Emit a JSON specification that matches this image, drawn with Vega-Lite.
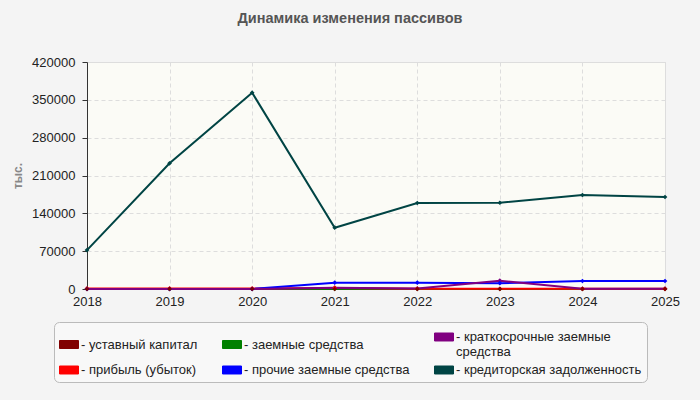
{
  "$schema": "https://vega.github.io/schema/vega-lite/v6.json",
  "autosize": {"type": "none"},
  "width": 578,
  "height": 227,
  "padding": {"left": 87, "top": 62, "right": 35, "bottom": 111},
  "background": "#f4f4f4",
  "title": {
    "text": "Динамика изменения пассивов",
    "anchor": "middle",
    "dx": -26,
    "offset": 30,
    "fontSize": 14.5,
    "fontWeight": "bold",
    "color": "#555555",
    "font": "Liberation Sans"
  },
  "data": {
    "values": [
      {"year": 2018, "series": "уставный капитал", "value": 10},
      {"year": 2019, "series": "уставный капитал", "value": 10},
      {"year": 2020, "series": "уставный капитал", "value": 10},
      {"year": 2021, "series": "уставный капитал", "value": 10},
      {"year": 2022, "series": "уставный капитал", "value": 10},
      {"year": 2023, "series": "уставный капитал", "value": 10},
      {"year": 2024, "series": "уставный капитал", "value": 10},
      {"year": 2025, "series": "уставный капитал", "value": 10},
      {"year": 2018, "series": "заемные средства", "value": 0},
      {"year": 2019, "series": "заемные средства", "value": 0},
      {"year": 2020, "series": "заемные средства", "value": 0},
      {"year": 2021, "series": "заемные средства", "value": 0},
      {"year": 2022, "series": "заемные средства", "value": 0},
      {"year": 2023, "series": "заемные средства", "value": 0},
      {"year": 2024, "series": "заемные средства", "value": 0},
      {"year": 2025, "series": "заемные средства", "value": 0},
      {"year": 2018, "series": "прибыль (убыток)", "value": 1000},
      {"year": 2019, "series": "прибыль (убыток)", "value": 1000},
      {"year": 2020, "series": "прибыль (убыток)", "value": 1000},
      {"year": 2021, "series": "прибыль (убыток)", "value": 2000},
      {"year": 2022, "series": "прибыль (убыток)", "value": 500},
      {"year": 2023, "series": "прибыль (убыток)", "value": 500},
      {"year": 2024, "series": "прибыль (убыток)", "value": 300},
      {"year": 2025, "series": "прибыль (убыток)", "value": 300},
      {"year": 2018, "series": "прочие заемные средства", "value": 0},
      {"year": 2019, "series": "прочие заемные средства", "value": 0},
      {"year": 2020, "series": "прочие заемные средства", "value": 0},
      {"year": 2021, "series": "прочие заемные средства", "value": 11700},
      {"year": 2022, "series": "прочие заемные средства", "value": 11700},
      {"year": 2023, "series": "прочие заемные средства", "value": 10800},
      {"year": 2024, "series": "прочие заемные средства", "value": 14800},
      {"year": 2025, "series": "прочие заемные средства", "value": 14800},
      {"year": 2018, "series": "краткосрочные заемные средства", "value": 0},
      {"year": 2019, "series": "краткосрочные заемные средства", "value": 0},
      {"year": 2020, "series": "краткосрочные заемные средства", "value": 0},
      {"year": 2021, "series": "краткосрочные заемные средства", "value": 2400},
      {"year": 2022, "series": "краткосрочные заемные средства", "value": 1000},
      {"year": 2023, "series": "краткосрочные заемные средства", "value": 15400},
      {"year": 2024, "series": "краткосрочные заемные средства", "value": 600},
      {"year": 2025, "series": "краткосрочные заемные средства", "value": 600},
      {"year": 2018, "series": "кредиторская задолженность", "value": 72000},
      {"year": 2019, "series": "кредиторская задолженность", "value": 232600},
      {"year": 2020, "series": "кредиторская задолженность", "value": 363200},
      {"year": 2021, "series": "кредиторская задолженность", "value": 113400},
      {"year": 2022, "series": "кредиторская задолженность", "value": 159100},
      {"year": 2023, "series": "кредиторская задолженность", "value": 159600},
      {"year": 2024, "series": "кредиторская задолженность", "value": 173900},
      {"year": 2025, "series": "кредиторская задолженность", "value": 170200}
    ]
  },
  "encoding": {
    "x": {
      "field": "year",
      "type": "quantitative",
      "scale": {"domain": [2018, 2025], "nice": false, "zero": false},
      "axis": {
        "title": null,
        "values": [2018, 2019, 2020, 2021, 2022, 2023, 2024, 2025],
        "format": "d",
        "labelFlush": false,
        "tickSize": 0,
        "labelPadding": 6
      }
    },
    "y": {
      "field": "value",
      "type": "quantitative",
      "scale": {"domain": [0, 420000], "nice": false},
      "axis": {
        "title": "тыс.",
        "values": [0, 70000, 140000, 210000, 280000, 350000, 420000],
        "format": "d",
        "tickSize": 5,
        "labelPadding": 7,
        "titlePadding": 7,
        "titleColor": "#888888",
        "titleFontWeight": "bold",
        "titleFontSize": 12
      }
    },
    "color": {
      "field": "series",
      "type": "nominal",
      "scale": {
        "domain": ["уставный капитал", "заемные средства", "краткосрочные заемные средства", "прибыль (убыток)", "прочие заемные средства", "кредиторская задолженность"],
        "range": ["#800000", "#008000", "#800080", "#ff0000", "#0000ff", "#004444"]
      },
      "legend": {
        "title": null,
        "orient": "none",
        "legendX": -33,
        "legendY": 260,
        "columns": 3,
        "direction": "horizontal",
        "fillColor": "#f8f8f8",
        "strokeColor": "#bbbbbb",
        "cornerRadius": 5,
        "padding": 5,
        "columnPadding": 22,
        "rowPadding": 1,
        "symbolType": "M-1,-0.42H1V0.42H-1Z",
        "symbolSize": 361,
        "symbolStrokeWidth": 1,
        "labelFontSize": 13,
        "labelColor": "#222222",
        "labelOffset": 2,
        "labelLimit": 300,
        "labelExpr": "datum.label == 'краткосрочные заемные средства' ? ['- краткосрочные заемные', '  средства'] : '- ' + datum.label",
        "encode": {
          "labels": {
            "update": {"lineHeight": {"value": 15}}
          },
          "symbols": {
            "update": {
              "fill": {"scale": "color", "field": "value"},
              "stroke": {"value": "#999999"},
              "strokeWidth": {"value": 1},
              "opacity": {"value": 1}
            }
          }
        }
      }
    },
    "order": {"field": "series"}
  },
  "layer": [
    {"mark": {"type": "line", "strokeWidth": 2}},
    {"mark": {"type": "point", "shape": "diamond", "filled": true, "size": 22, "opacity": 1}}
  ],
  "config": {
    "font": "Liberation Sans",
    "view": {"fill": "#fbfbf6", "stroke": "#dddddd"},
    "axis": {
      "labelFontSize": 13,
      "labelColor": "#222222",
      "domainColor": "#333333",
      "tickColor": "#333333",
      "gridColor": "#dddddd",
      "gridDash": [4, 3],
      "titleFont": "Liberation Sans"
    }
  }
}
